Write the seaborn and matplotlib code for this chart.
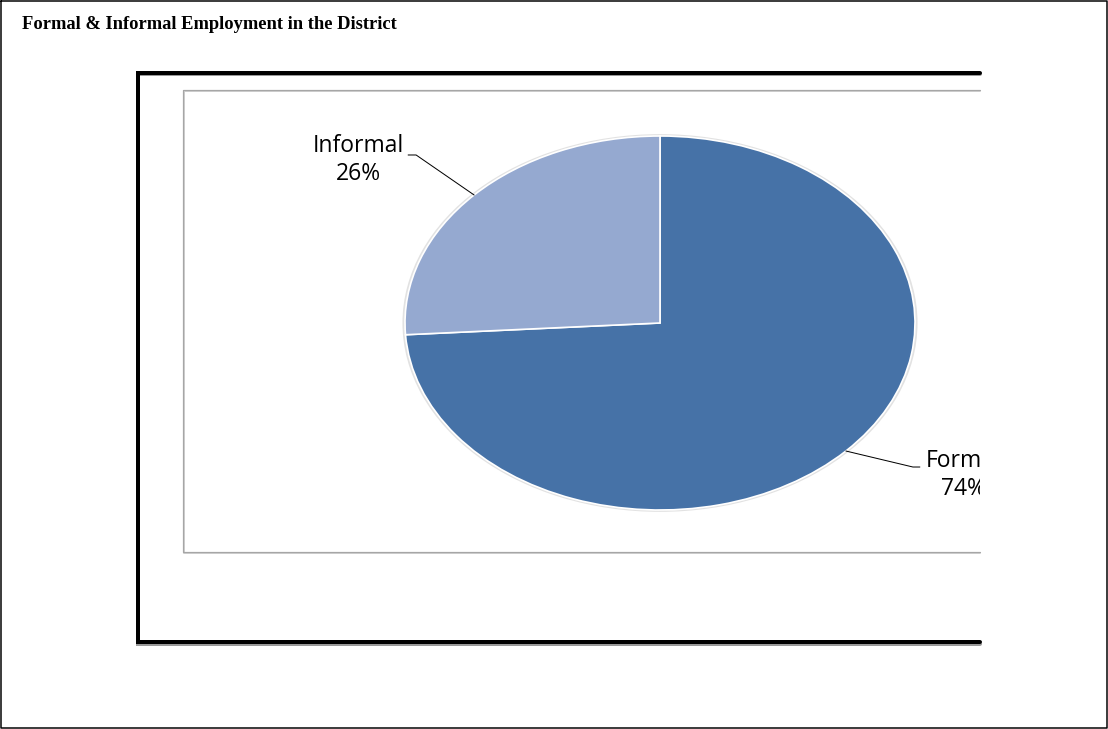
import matplotlib
matplotlib.use("Agg")
import matplotlib.pyplot as plt
import seaborn as sns
import numpy as np

# ---- data ----
categories = ["Formal", "Informal"]
shares = [74, 26]
colors = ["#4672A7", "#95A9D0"]
title = "Formal & Informal Employment in the District"

sns.set_theme(style="white")
plt.rcParams['font.family'] = ['Open Sans', 'DejaVu Sans']

W, H = 1108, 729
fig = plt.figure(figsize=(W / 100, H / 100), dpi=100)
fig.patch.set_facecolor("white")

# background axes in pixel coordinates
bg = fig.add_axes([0, 0, 1, 1], zorder=0)
bg.set_xlim(0, W)
bg.set_ylim(H, 0)
bg.axis("off")

px = 72 / 100  # points per pixel
# outer thin border
bg.plot([1, W - 1.5, W - 1.5, 1, 1], [1, 1, H - 1.5, H - 1.5, 1], color="black", lw=1.5 * px)
# title
bg.text(22, 24, title, fontsize=13.3, fontweight="bold", family="Liberation Serif",
        va="center", ha="left", color="black")
# thick chart frame (clipped on the right)
bg.plot([980, 138, 138, 980], [643.5, 643.5, 73.5, 73.5], color="#999999", lw=4 * px,
        solid_joinstyle="miter")
bg.plot([980, 138, 138, 980], [642, 642, 72.5, 72.5], color="black", lw=4 * px,
        solid_joinstyle="miter")
# grey plot area frame
bg.plot([980, 184, 184, 980], [552.5, 552.5, 90.5, 90.5], color="#D0D0D0", lw=2 * px)
bg.plot([980, 183, 183, 980], [552, 552, 90, 90], color="#A6A6A6", lw=1.2 * px)

# pie axes stretched into an ellipse
cx, cy, rx, ry = 660, 323, 255, 187
pie_ax = fig.add_axes([(cx - rx) / W, 1 - (cy + ry) / H, 2 * rx / W, 2 * ry / H], zorder=2)
# soft shadow ring
pie_ax.pie([1], colors=["#E2E2E2"], radius=1.01, wedgeprops=dict(linewidth=0))
wedges, _ = pie_ax.pie(shares, colors=colors, startangle=90, counterclock=False,
                       wedgeprops=dict(edgecolor="white", linewidth=1.2))
pie_ax.set_aspect("auto")
pie_ax.set_xlim(-1.0, 1.0)
pie_ax.set_ylim(-1.0, 1.0)
pie_ax.axis("off")
for p in pie_ax.patches:
    p.set_clip_on(False)

# overlay for labels, clipped at the frame's right edge
ov = fig.add_axes([0, 0, 980 / W, 1], zorder=3)
ov.set_xlim(0, 980)
ov.set_ylim(H, 0)
ov.axis("off")
ov.patch.set_alpha(0)

to_ov = pie_ax.transData + ov.transData.inverted()
label_cfg = {
    "Informal": dict(elbow=(-58, -40), tail=-8, text=(358, 160)),
    "Formal": dict(elbow=(67, 16), tail=7, text=(963, 475)),
}
for w, name, val in zip(wedges, categories, shares):
    mid = np.deg2rad((w.theta1 + w.theta2) / 2)
    ax_pt = to_ov.transform((np.cos(mid), np.sin(mid)))
    cfg = label_cfg[name]
    ex, ey = ax_pt[0] + cfg["elbow"][0], ax_pt[1] + cfg["elbow"][1]
    ov.plot([ax_pt[0], ex, ex + cfg["tail"]], [ax_pt[1], ey, ey], color="black",
            lw=1.0 * px, clip_on=True)
    ov.text(cfg["text"][0], cfg["text"][1], f"{name}\n{val}%", fontsize=16.5,
            ha="center", va="center", multialignment="center", linespacing=1.2,
            color="black", clip_on=True)

fig.savefig("out.png", dpi=100)
